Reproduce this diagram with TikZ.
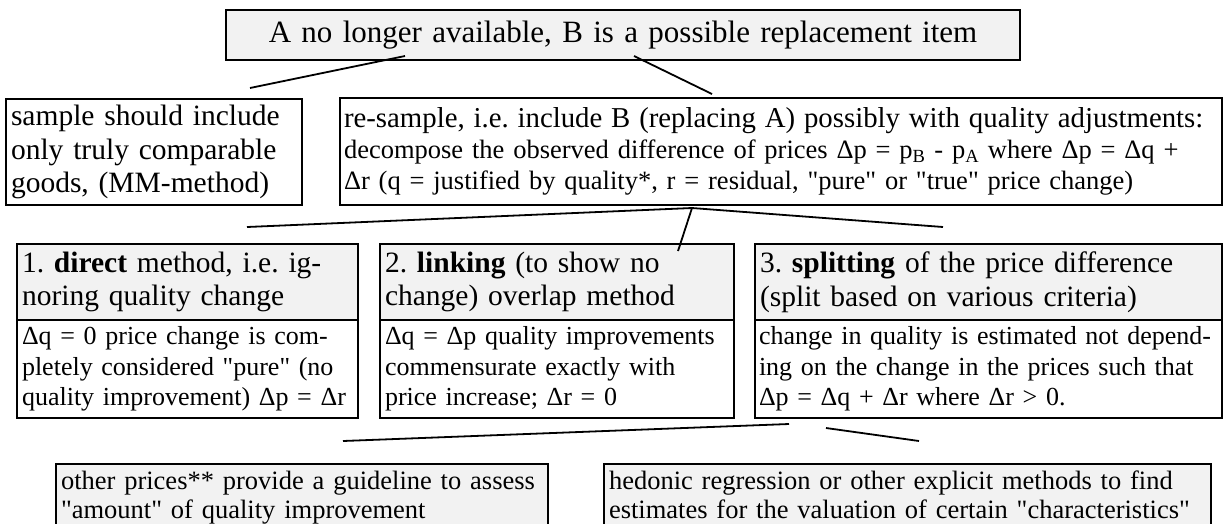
\documentclass[tikz,border=0pt]{standalone}
\usepackage{fontspec}
\setmainfont{Liberation Serif}
% same face without the TeX mapping, so that " stays a straight quote
\newfontfamily\plainquotes{Liberation Serif}
\newcommand\dq{{\plainquotes"}}
\frenchspacing
\definecolor{boxgray}{HTML}{F2F2F2}
\begin{document}
\begin{tikzpicture}[x=1pt,y=-1pt,
  frame/.style={draw=black, line width=2pt, anchor=north west, inner xsep=5pt, inner ysep=2pt, align=left},
  shaded/.style={frame, fill=boxgray},
  plain/.style={frame, fill=white},
  link/.style={line width=1.8pt},
  bigtext/.style={font=\fontsize{31}{35}\selectfont},
  maintext/.style={font=\fontsize{29.5}{33.5}\selectfont},
  smalltext/.style={font=\fontsize{26}{30.5}\selectfont},
  bottomtext/.style={font=\fontsize{26.5}{29}\selectfont},
]
\useasboundingbox (0,0) rectangle (1225,523);
\clip (0,0) rectangle (1225,523);

% root question
\node[shaded, bigtext, align=center, text width=784pt, minimum height=50pt] (top) at (225,9)
  {A no longer available, B is a possible replacement item};

% two ways of handling the replacement
\node[plain, maintext, text width=286pt, minimum height=106pt] (keep) at (5,98)
  {sample should include\\only truly comparable\\goods, (MM-method)};
\node[plain, font=\fontsize{26.5}{31}\selectfont, inner xsep=4pt, text width=874pt, minimum height=107pt] (resample) at (339,97)
  {{\fontsize{28.8}{31}\selectfont re-sample, i.e. include B (replacing A) possibly with quality adjustments:}\\
   decompose the observed difference of prices Δp = p\textsubscript{B} - p\textsubscript{A} where Δp = Δq +\\
   Δr (q = justified by quality*, r = residual, \dq pure\dq{} or \dq true\dq{} price change)};

% three adjustment methods: title part and explanation part
\node[shaded, maintext, text width=331pt, minimum height=76pt] (directH) at (16,243)
  {1. \textbf{direct} method, i.e. ig-\\noring quality change};
\node[plain, smalltext, text width=331pt, minimum height=98pt] (directB) at (16,319)
  {Δq = 0 price change is com-\\pletely considered \dq pure\dq{} (no\\quality improvement) Δp = Δr};

\node[shaded, maintext, text width=344pt, minimum height=76pt] (linkH) at (379,243)
  {2. \textbf{linking} (to show no\\change) overlap method};
\node[plain, smalltext, text width=344pt, minimum height=98pt] (linkB) at (379,319)
  {Δq = Δp quality improvements\\commensurate exactly with\\price increase; Δr = 0};

\node[shaded, maintext, text width=457pt, minimum height=76pt] (splitH) at (754,243)
  {3. \textbf{splitting} of the price difference\\(split based on various criteria)};
\node[plain, smalltext, inner xsep=4pt, text width=459pt, minimum height=98pt] (splitB) at (754,319)
  {change in quality is estimated not depend-\\ing on the change in the prices such that\\Δp = Δq + Δr where Δr > 0.};

% ways of estimating the split (boxes run on below the lower edge)
\node[shaded, bottomtext, text width=482pt, text depth=50pt] (guide) at (55,463)
  {\rule{0pt}{23pt}\makebox[\linewidth][s]{other prices** provide a guideline to assess}\\\dq amount\dq{} of quality improvement};
\node[shaded, bottomtext, text width=597pt, text depth=50pt] (hedonic) at (603,463)
  {\rule{0pt}{23pt}\makebox[\linewidth][s]{hedonic regression or other explicit methods to find}\\estimates for the valuation of certain \dq characteristics\dq};

% connector end points
\coordinate (t1) at (405,56);
\coordinate (k1) at (250,88);
\coordinate (t2) at (634,56);
\coordinate (r1) at (712,94);
\coordinate (fork) at (692,208);
\coordinate (d1) at (247,227);
\coordinate (l1) at (678,251);
\coordinate (s1) at (943,227);
\coordinate (g1) at (343,441);
\coordinate (g2) at (789,424);
\coordinate (h1) at (826,428);
\coordinate (h2) at (919,441);

\draw[link] (t1) -- (k1);
\draw[link] (t2) -- (r1);
\draw[link] (d1) -- (fork) -- (s1);
\draw[link] (fork) -- (l1);
\draw[link] (g1) -- (g2);
\draw[link] (h1) -- (h2);
\end{tikzpicture}
\end{document}
